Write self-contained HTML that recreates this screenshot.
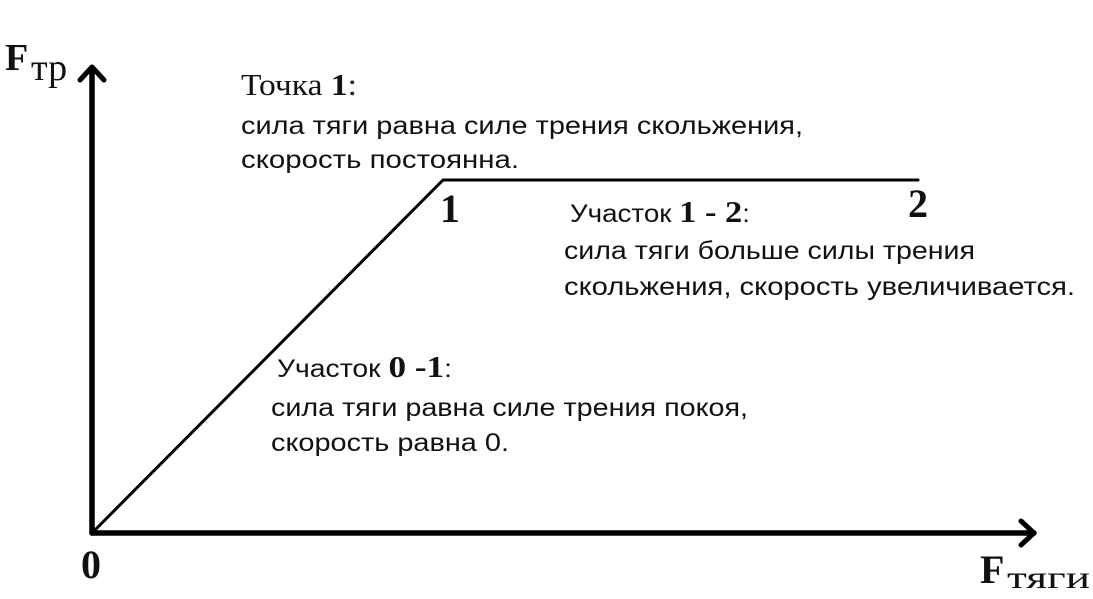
<!DOCTYPE html>
<html><head><meta charset="utf-8"><style>
html,body{margin:0;padding:0;background:#fff;}
svg{display:block}
.s{font-family:"Liberation Sans","DejaVu Sans",sans-serif;font-size:25px;fill:#111}
.r{font-family:"Liberation Serif",serif;fill:#111}
</style></head><body>
<svg width="1093" height="599" viewBox="0 0 1093 599" xmlns="http://www.w3.org/2000/svg">
<g stroke="#000" fill="none" stroke-linecap="round" stroke-linejoin="round">
<line x1="92" y1="533" x2="92" y2="68" stroke-width="5.5"/>
<polyline points="80,80 92,67 104,80" stroke-width="5"/>
<line x1="92" y1="533" x2="1034" y2="533" stroke-width="5.5"/>
<polyline points="1021,521 1034,533 1021,545" stroke-width="5"/>
<polyline points="92,533 443,180 918,180" stroke-width="3"/>
</g>
<text x="5" y="70" class="r" font-size="38" font-weight="bold">F</text>
<text x="31" y="80" class="r" font-size="38">тр</text>
<text x="81" y="578" class="r" font-size="40" font-weight="bold">0</text>
<text x="980" y="583" class="r" font-size="40" font-weight="bold">F</text>
<text x="1007" y="588" class="r" font-size="32" textLength="83" lengthAdjust="spacingAndGlyphs">тяги</text>
<text x="440" y="222" class="r" font-size="40" font-weight="bold">1</text>
<text x="908" y="217" class="r" font-size="40" font-weight="bold">2</text>
<text x="241" y="95" class="r" font-size="31" textLength="116" lengthAdjust="spacingAndGlyphs">Точка <tspan font-weight="bold">1</tspan>:</text>
<text x="241" y="134" class="s" textLength="562" lengthAdjust="spacingAndGlyphs">сила тяги равна силе трения скольжения,</text>
<text x="241" y="168" class="s" textLength="278" lengthAdjust="spacingAndGlyphs">скорость постоянна.</text>
<text x="570" y="222" class="s" font-size="26" textLength="180" lengthAdjust="spacingAndGlyphs">Участок <tspan class="r" font-size="31" font-weight="bold">1 - 2</tspan>:</text>
<text x="564" y="259" class="s" textLength="411" lengthAdjust="spacingAndGlyphs">сила тяги больше силы трения</text>
<text x="564" y="295" class="s" textLength="511" lengthAdjust="spacingAndGlyphs">скольжения, скорость увеличивается.</text>
<text x="277" y="377" class="s" font-size="26" textLength="175" lengthAdjust="spacingAndGlyphs">Участок <tspan class="r" font-size="31" font-weight="bold">0 -1</tspan>:</text>
<text x="271" y="416" class="s" textLength="477" lengthAdjust="spacingAndGlyphs">сила тяги равна силе трения покоя,</text>
<text x="271" y="451" class="s" textLength="238" lengthAdjust="spacingAndGlyphs">скорость равна 0.</text>
</svg>
</body></html>
